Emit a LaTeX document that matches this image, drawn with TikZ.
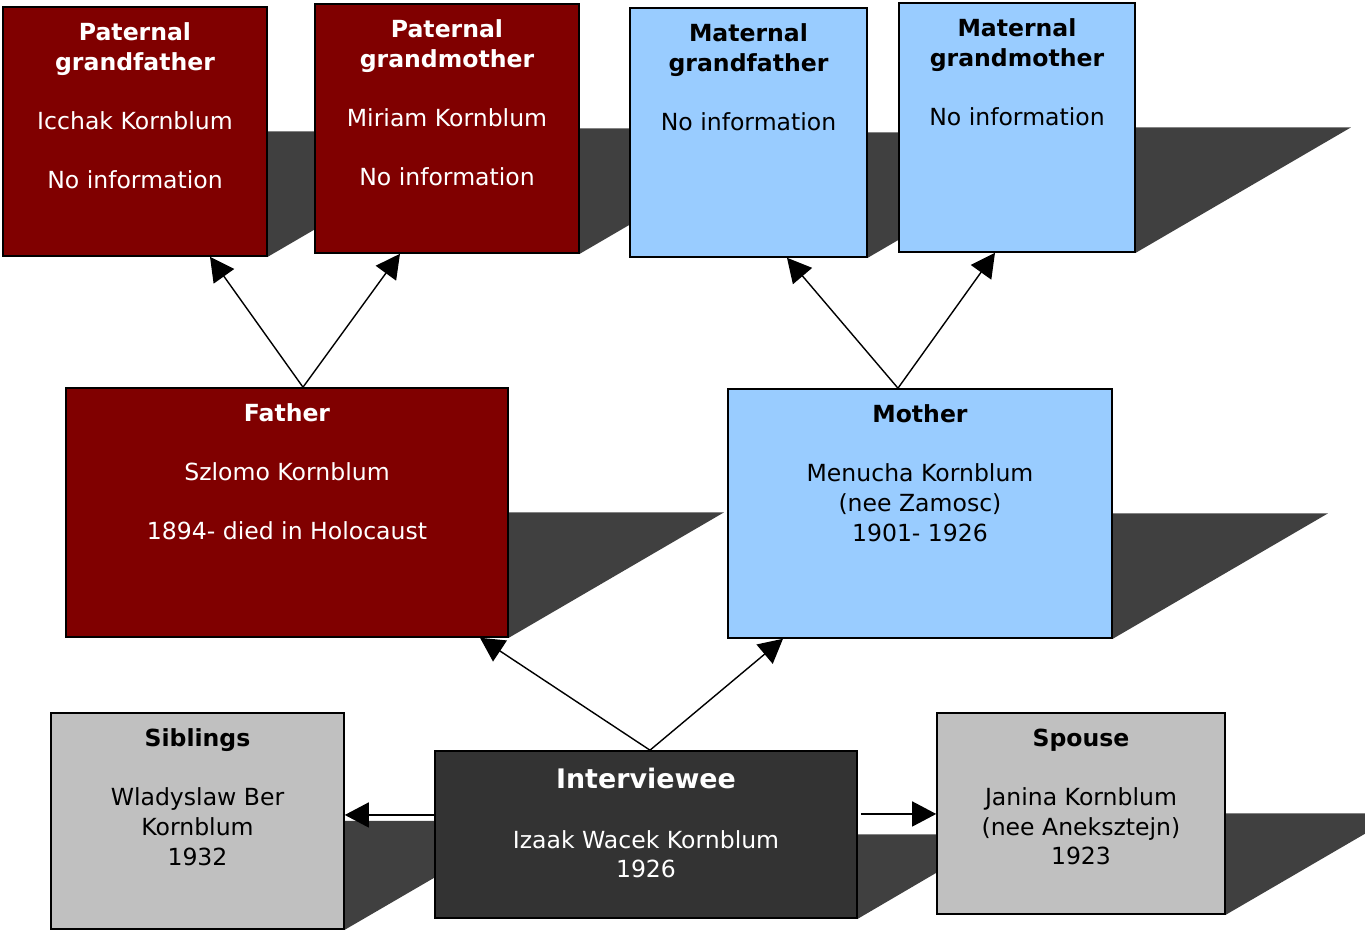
\documentclass[tikz,border=0pt]{standalone}
\usepackage{fontspec}
\setmainfont{DejaVu Sans}
\usetikzlibrary{positioning,arrows.meta,backgrounds,calc}
\definecolor{famred}{HTML}{800000}
\definecolor{famblue}{HTML}{99CCFF}
\definecolor{famgrey}{HTML}{C0C0C0}
\definecolor{famdark}{HTML}{333333}
\definecolor{famshade}{HTML}{404040}

\begin{document}
\begin{tikzpicture}[scale=0.2,
  card/.style={draw=black, line width=0.9pt, inner sep=0pt},
  redcard/.style={card, fill=famred},
  bluecard/.style={card, fill=famblue},
  greycard/.style={card, fill=famgrey},
  darkcard/.style={card, fill=famdark},
  txt/.style={inner sep=0pt, align=center, font=\fontsize{13.4}{16.8}\selectfont},
  arr/.style={line width=0.8pt, -{Triangle[length=0.48cm,width=0.5cm]}},
  castshade/.style={fill=famshade}]
\useasboundingbox (0,0) rectangle (136.5,-93.1);

% grandparents
\node[redcard, minimum width=5.28cm, minimum height=4.98cm] (pgf) at (13.5,-13.15) {};
\node[txt, text=white, below=0.33cm of pgf.north] (pgftxt) {\textbf{Paternal}\\\textbf{grandfather}\\[0.59cm]Icchak Kornblum\\[0.59cm]No information};
\node[redcard, minimum width=5.28cm, minimum height=4.98cm] (pgm) at (44.7,-12.85) {};
\node[txt, text=white, below=0.33cm of pgm.north] (pgmtxt) {\textbf{Paternal}\\\textbf{grandmother}\\[0.59cm]Miriam Kornblum\\[0.59cm]No information};
\node[bluecard, minimum width=4.74cm, minimum height=4.98cm] (mgf) at (74.85,-13.25) {};
\node[txt, below=0.33cm of mgf.north] (mgftxt) {\textbf{Maternal}\\\textbf{grandfather}\\[0.59cm]No information};
\node[bluecard, minimum width=4.72cm, minimum height=4.98cm] (mgm) at (101.7,-12.75) {};
\node[txt, below=0.33cm of mgm.north] (mgmtxt) {\textbf{Maternal}\\\textbf{grandmother}\\[0.59cm]No information};

% parents
\node[redcard, minimum width=8.84cm, minimum height=4.98cm] (father) at (28.7,-51.25) {};
\node[txt, text=white, below=0.33cm of father.north] (fathertxt) {\textbf{Father}\\[0.59cm]Szlomo Kornblum\\[0.59cm]1894- died in Holocaust};
\node[bluecard, minimum width=7.68cm, minimum height=4.98cm] (mother) at (92,-51.35) {};
\node[txt, below=0.33cm of mother.north] (mothertxt) {\textbf{Mother}\\[0.59cm]Menucha Kornblum\\(nee Zamosc)\\1901- 1926};

% interviewee row
\node[greycard, minimum width=5.86cm, minimum height=4.32cm] (sib) at (19.75,-82.1) {};
\node[txt, below=0.33cm of sib.north] (sibtxt) {\textbf{Siblings}\\[0.59cm]Wladyslaw Ber\\Kornblum\\1932};
\node[darkcard, minimum width=8.44cm, minimum height=3.34cm] (iv) at (64.6,-83.45) {};
\node[txt, text=white, below=0.36cm of iv.north] (ivtxt) {{\fontsize{15.3}{18}\selectfont\textbf{Interviewee}}\\[0.59cm]Izaak Wacek Kornblum\\1926};
\node[greycard, minimum width=5.76cm, minimum height=4.02cm] (sp) at (108.1,-81.35) {};
\node[txt, below=0.33cm of sp.north] (sptxt) {\textbf{Spouse}\\[0.59cm]Janina Kornblum\\(nee Aneksztejn)\\1923};

\begin{scope}[on background layer]
\clip (0,0) rectangle (136.5,-93.1);
\fill[castshade] (pgf.east) -- ++(21.5,0) -- (pgf.south east) -- cycle;
\fill[castshade] (pgm.east) -- ++(21.5,0) -- (pgm.south east) -- cycle;
\fill[castshade] (mgf.east) -- ++(21.5,0) -- (mgf.south east) -- cycle;
\fill[castshade] (mgm.east) -- ++(21.5,0) -- (mgm.south east) -- cycle;
\fill[castshade] (father.east) -- ++(21.5,0) -- (father.south east) -- cycle;
\fill[castshade] (mother.east) -- ++(21.5,0) -- (mother.south east) -- cycle;
\fill[castshade] (sib.east) -- ++(18.7,0) -- (sib.south east) -- cycle;
\fill[castshade] (iv.east) -- ++(14.4,0) -- (iv.south east) -- cycle;
\fill[castshade] (sp.east) -- ++(17.4,0) -- (sp.south east) -- cycle;
\end{scope}

% connectors
\coordinate (fatherup) at ($(father.north)+(1.6,0)$);
\coordinate (motherup) at ($(mother.north)+(-2.2,0)$);
\coordinate (ivup) at ($(iv.north)+(0.4,0)$);
\coordinate (ivleft) at ($(iv.west)+(0,1.95)$);
\coordinate (ivright) at ($(iv.east)+(0.3,2.05)$);
\draw[arr] (fatherup) -- ($(pgf.south)+(7.5,0)$);
\draw[arr] (fatherup) -- ($(pgm.south)+(-4.7,0)$);
\draw[arr] (motherup) -- ($(mgf.south)+(3.85,0)$);
\draw[arr] (motherup) -- ($(mgm.south)+(-2.2,0)$);
\draw[arr] (ivup) -- ($(father.south)+(19.3,0)$);
\draw[arr] (ivup) -- ($(mother.south)+(-13.7,0)$);
\draw[arr] (ivleft) -- (ivleft -| sib.east);
\draw[arr] (ivright) -- (ivright -| sp.west);
\end{tikzpicture}
\end{document}
